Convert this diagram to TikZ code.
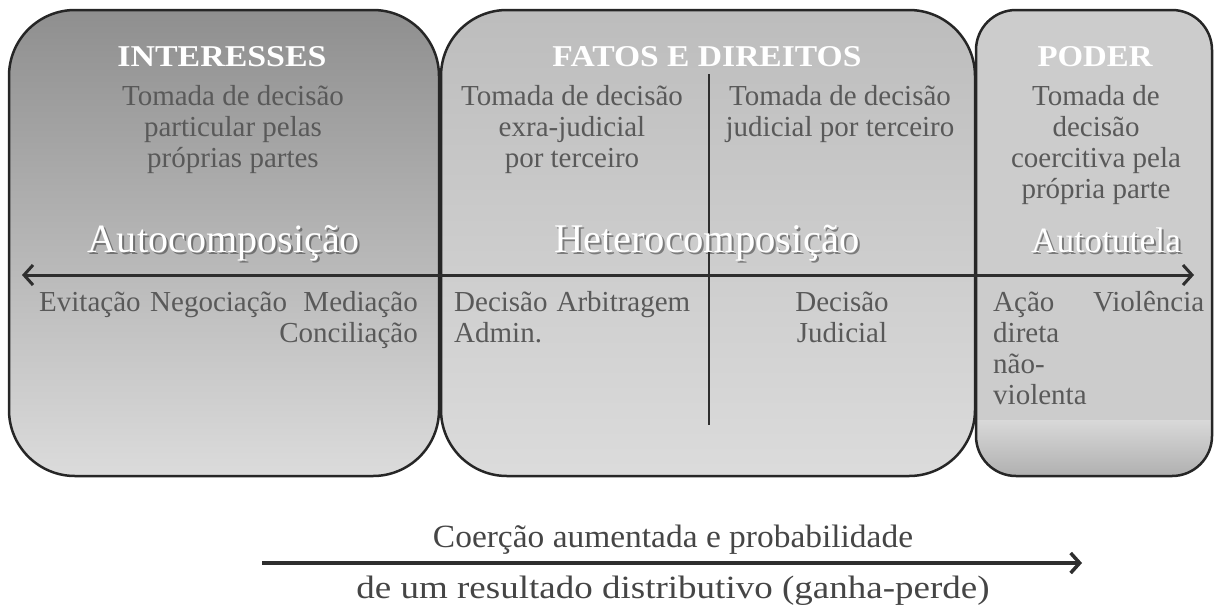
\documentclass[tikz,border=0pt]{standalone}
\usepackage{fontspec}
\setmainfont{Liberation Serif}
\usetikzlibrary{arrows.meta}
\definecolor{boxline}{HTML}{262626}
\definecolor{txt}{HTML}{595959}
\definecolor{btxt}{HTML}{454545}
\definecolor{arrowc}{HTML}{2E2E2E}
\definecolor{shadowc}{HTML}{3A3A3A}
\tikzset{
  boxborder/.style={draw=boxline, line width=2.5pt},
  body/.style={text=txt, font=\fontsize{29}{31}\selectfont, inner sep=0pt, align=center, anchor=base},
  lowtxt/.style={text=txt, font=\fontsize{29}{31}\selectfont, inner sep=0pt},
  titletxt/.style={text=white, font=\bfseries, inner sep=0pt, anchor=base},
  bigtxt/.style={text=white, inner sep=0pt, anchor=base},
  bigshadow/.style={text=shadowc, opacity=0.55, inner sep=0pt, anchor=base},
  axis/.style={draw=arrowc, line width=3pt, {Straight Barb[length=9pt,width=20pt]}-{Straight Barb[length=9pt,width=20pt]}},
  bottomtxt/.style={text=btxt, inner sep=0pt, anchor=base},
}
\begin{document}
\begin{tikzpicture}[x=1pt,y=-1pt]
\useasboundingbox (0,0) rectangle (1217,606);

% boxes
\shade[top color=black!44, bottom color=black!14, rounded corners=66pt] (9,10) rectangle (439,476);
\shade[top color=black!26, bottom color=black!14, rounded corners=66pt] (441,10) rectangle (975,476);
\begin{scope}
  \clip[rounded corners=40pt] (976,10) rectangle (1212,476);
  \fill[black!20] (976,10) rectangle (1212,420);
  \shade[top color=black!15, bottom color=black!31] (976,420) rectangle (1212,476);
\end{scope}
\draw[boxborder, rounded corners=66pt] (9,10) rectangle (439,476);
\draw[boxborder, rounded corners=66pt] (441,10) rectangle (975,476);
\draw[boxborder, rounded corners=40pt] (976,10) rectangle (1212,476);

% vertical divider
\coordinate (vT) at (709,74);
\coordinate (vB) at (709,425);
\draw[draw=arrowc, line width=2.5pt] (vT) -- (vB);

% titles
\node[titletxt] (t1) at (222,66) {\resizebox{209pt}{20pt}{INTERESSES}};
\node[titletxt] (t2) at (707,66) {\resizebox{309pt}{20pt}{FATOS E DIREITOS}};
\node[titletxt] (t3) at (1095,66) {\resizebox{115pt}{20pt}{PODER}};

% descriptions (anchor = baseline of last line)
\node[body] (d1) at (233,167) {Tomada de decisão\\particular pelas\\próprias partes};
\node[body] (d2) at (572,167) {Tomada de decisão\\exra-judicial\\por terceiro};
\node[body] (d3) at (840,136) {Tomada de decisão\\judicial por terceiro};
\node[body] (d4) at (1096,198) {Tomada de\\decisão\\coercitiva pela\\própria parte};

% big labels with shadow
\node[bigshadow] (s1) at (226,254) {\resizebox{272pt}{!}{Autocomposição}};
\node[bigtxt] (g1) at (224,252) {\resizebox{272pt}{!}{Autocomposição}};
\node[bigshadow] (s2) at (709,254) {\resizebox{305pt}{!}{Heterocomposição}};
\node[bigtxt] (g2) at (707,252) {\resizebox{305pt}{!}{Heterocomposição}};
\node[bigshadow] (s3) at (1108,254) {\resizebox{150pt}{!}{Autotutela}};
\node[bigtxt] (g3) at (1106,252) {\resizebox{150pt}{!}{Autotutela}};

% main axis
\coordinate (aL) at (22,275);
\coordinate (aR) at (1194,275);
\draw[axis] (aL) -- (aR);

% items below axis
\node[lowtxt, anchor=base west] (e1) at (39,311) {Evitação};
\node[lowtxt, anchor=base west] (e2) at (150,311) {Negociação};
\node[lowtxt, anchor=base east] (e3) at (418,311) {Mediação};
\node[lowtxt, anchor=base east] (e4) at (418,342) {Conciliação};
\node[lowtxt, anchor=base west] (e5) at (454,311) {Decisão\hspace{9pt}Arbitragem};
\node[lowtxt, anchor=base west] (e6) at (454,342) {Admin.};
\node[lowtxt, align=center, anchor=base] (e7) at (842,342) {Decisão\\Judicial};
\node[lowtxt, align=left, anchor=base west] (e8) at (993,404) {Ação\\direta\\não-\\violenta};
\node[lowtxt, anchor=base west] (e9) at (1093,311) {Violência};

% bottom arrow and text
\node[bottomtxt] (c1) at (673,547) {\resizebox{480pt}{22.5pt}{Coerção aumentada e probabilidade}};
\node[bottomtxt] (c2) at (673,598) {\resizebox{633pt}{22.5pt}{de um resultado distributivo (ganha-perde)}};
\coordinate (bL) at (262,563);
\coordinate (bR) at (1082,563);
\draw[draw=arrowc, line width=3.5pt, -{Straight Barb[length=9pt,width=20pt]}] (bL) -- (bR);
\end{tikzpicture}
\end{document}
